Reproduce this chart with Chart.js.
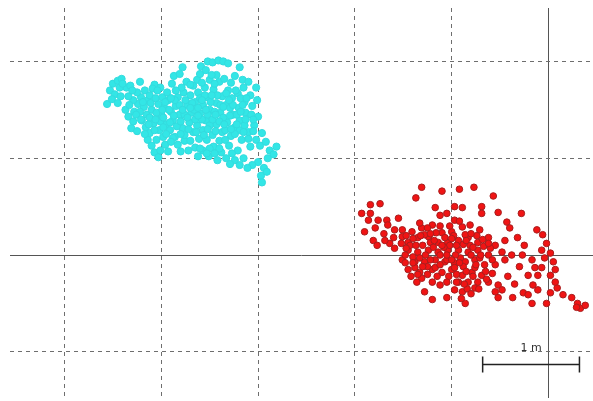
<!DOCTYPE html>
<html>
<head>
<meta charset="utf-8">
<script src="https://cdn.jsdelivr.net/npm/chart.js@4"></script>
<style>
  html, body { margin: 0; padding: 0; background: #fff; }
  canvas { display: block; }
</style>
</head>
<body>
<canvas id="chart" width="593" height="401"></canvas>
<script>
// positions in metres, origin at the solid axes
const cyanPoints = [
  [-4.56,1.56],[-4.53,1.70],[-4.50,1.77],[-4.45,1.80],[-4.41,1.82],[-4.48,1.66],[-4.51,1.61],[-4.45,1.57],
  [-4.42,1.64],[-4.36,1.73],[-4.32,1.75],[-4.37,1.50],[-4.34,1.43],[-4.29,1.38],[-4.31,1.31],[-4.25,1.28],
  [-4.28,1.48],[-4.24,1.56],[-4.21,1.63],[-4.22,1.79],[-4.17,1.70],[-4.14,1.60],[-4.18,1.53],[-4.15,1.45],
  [-4.20,1.39],[-4.16,1.32],[-4.12,1.26],[-4.14,1.19],[-4.10,1.13],[-4.07,1.06],[-4.03,1.01],[-4.01,1.08],
  [-4.05,1.19],[-4.08,1.36],[-4.10,1.50],[-4.12,1.65],[-4.07,1.76],[-4.01,1.73],[-3.99,1.63],[-4.03,1.56],
  [-4.00,1.45],[-4.02,1.29],[-3.98,1.22],[-3.96,1.14],[-3.93,1.07],[-3.95,1.35],[-3.97,1.52],[-3.93,1.60],
  [-3.94,1.68],[-3.89,1.77],[-3.87,1.85],[-3.81,1.87],[-3.78,1.94],[-3.74,1.79],[-3.77,1.68],[-3.83,1.63],
  [-3.85,1.54],[-3.90,1.48],[-3.88,1.39],[-3.91,1.29],[-3.86,1.22],[-3.83,1.14],[-3.80,1.07],[-3.76,1.18],
  [-3.78,1.31],[-3.81,1.45],[-3.73,1.55],[-3.70,1.65],[-3.67,1.75],[-3.63,1.81],[-3.60,1.87],[-3.59,1.95],
  [-3.54,1.91],[-3.52,2.00],[-3.47,1.99],[-3.41,2.01],[-3.36,2.00],[-3.31,1.98],[-3.43,1.86],[-3.50,1.81],
  [-3.55,1.73],[-3.62,1.68],[-3.65,1.58],[-3.69,1.47],[-3.71,1.37],[-3.67,1.27],[-3.70,1.18],[-3.72,1.08],
  [-3.65,1.11],[-3.61,1.20],[-3.63,1.34],[-3.60,1.46],[-3.57,1.55],[-3.52,1.63],[-3.46,1.71],[-3.40,1.79],
  [-3.35,1.82],[-3.28,1.78],[-3.24,1.85],[-3.19,1.94],[-3.16,1.81],[-3.31,1.70],[-3.37,1.64],[-3.43,1.57],
  [-3.50,1.50],[-3.54,1.39],[-3.57,1.29],[-3.53,1.19],[-3.57,1.08],[-3.51,1.02],[-3.46,1.12],[-3.47,1.24],
  [-3.43,1.35],[-3.39,1.47],[-3.33,1.55],[-3.27,1.62],[-3.21,1.67],[-3.15,1.73],[-3.10,1.79],[-3.08,1.65],
  [-3.14,1.58],[-3.20,1.52],[-3.26,1.45],[-3.32,1.37],[-3.37,1.27],[-3.40,1.18],[-3.38,1.06],[-3.42,0.98],
  [-3.33,1.00],[-3.30,1.13],[-3.28,1.23],[-3.24,1.32],[-3.19,1.39],[-3.13,1.47],[-3.06,1.54],[-3.01,1.60],
  [-3.02,1.73],[-3.00,1.43],[-3.04,1.34],[-3.10,1.27],[-3.17,1.19],[-3.21,1.08],[-3.24,0.98],[-3.15,1.00],
  [-3.08,1.12],[-3.02,1.19],[-2.96,1.26],[-2.98,1.13],[-2.92,1.17],[-2.88,1.08],[-2.84,1.04],[-2.81,1.12],
  [-2.90,1.00],[-3.00,0.96],[-2.94,0.90],[-2.97,0.82],[-2.91,0.86],[-2.96,0.75],[-3.06,0.93],[-3.11,0.90],
  [-3.19,0.93],[-3.29,0.94],[-4.25,1.68],[-4.29,1.60],[-4.34,1.64],[-4.43,1.73],[-3.88,1.21],[-3.79,1.73],
  [-3.34,1.19],[-4.07,1.29],[-3.91,1.37],[-3.76,1.45],[-3.65,1.40],[-3.50,1.34],[-3.34,1.29],[-3.19,1.29],
  [-3.60,1.62],[-3.45,1.48],[-3.29,1.52],[-3.14,1.34],[-3.81,1.55],[-4.01,1.38],[-4.12,1.42],[-4.22,1.48],
  [-3.76,1.24],[-3.62,1.02],
  [-4.26,1.45],[-4.19,1.58],[-4.11,1.57],[-4.05,1.47],[-4.06,1.62],[-3.98,1.42],[-3.96,1.58],[-3.92,1.50],
  [-3.86,1.60],[-3.87,1.44],[-3.84,1.33],[-3.95,1.25],[-3.90,1.17],[-3.80,1.25],[-3.73,1.42],[-3.72,1.30],
  [-3.68,1.57],[-3.66,1.50],[-3.58,1.40],[-3.56,1.24],[-3.52,1.45],[-3.49,1.58],[-3.47,1.40],[-3.44,1.28],
  [-3.42,1.65],[-3.39,1.55],[-3.36,1.42],[-3.33,1.67],[-3.29,1.44],[-3.26,1.55],[-3.23,1.70],[-3.22,1.45],
  [-3.24,1.25],[-3.18,1.62],[-3.16,1.55],[-3.13,1.40],[-3.10,1.20],[-3.07,1.45],[-3.55,1.65],[-3.62,1.52],
  [-3.78,1.50],[-4.09,1.72],[-4.17,1.25],[-3.98,1.32],[-3.60,1.10],[-3.50,1.10],[-3.40,1.10],[-3.27,1.05],
  [-3.70,1.76],[-3.45,1.77],
  [-4.40,1.77],[-4.33,1.55],[-4.30,1.70],[-4.21,1.40],[-4.13,1.35],[-4.06,1.40],[-4.04,1.70],[-3.99,1.50],
  [-3.90,1.62],[-3.85,1.70],[-3.80,1.38],[-3.75,1.60],[-3.70,1.52],[-3.64,1.27],[-3.62,1.44],[-3.58,1.60],
  [-3.54,1.50],[-3.52,1.30],[-3.48,1.65],[-3.44,1.45],[-3.40,1.38],[-3.36,1.53],[-3.35,1.35],[-3.30,1.60],
  [-3.28,1.30],[-3.22,1.35],[-3.18,1.48],[-3.15,1.27],[-3.12,1.62],[-3.05,1.40],[-3.05,1.28],[-3.58,1.78],
  [-3.48,1.86],[-3.53,1.05],[-3.45,1.05]
];

const redPoints = [
  [-1.31,0.70],[-1.10,0.66],[-0.92,0.68],[-0.77,0.70],[-1.37,0.59],[-0.57,0.61],[-1.84,0.52],[-1.74,0.53],
  [-1.84,0.43],[-1.86,0.36],[-1.76,0.36],[-1.67,0.36],[-1.55,0.38],[-1.90,0.24],[-1.79,0.28],[-1.66,0.31],
  [-1.59,0.26],[-1.81,0.15],[-1.77,0.10],[-1.64,0.12],[-1.51,0.26],[-1.17,0.49],[-1.12,0.41],[-1.05,0.43],
  [-0.97,0.50],[-0.89,0.49],[-0.69,0.50],[-0.69,0.43],[-0.52,0.44],[-0.28,0.43],[-0.43,0.34],[-0.40,0.28],
  [-0.32,0.18],[-0.12,0.26],[-0.06,0.21],[-0.02,0.12],[0.02,0.02],[0.05,-0.07],[-0.89,0.29],[-1.00,0.24],
  [-1.10,0.23],[-1.20,0.31],[-1.31,0.28],[-1.41,0.24],[-1.51,0.19],[-1.45,0.13],[-1.35,0.18],[-1.24,0.19],
  [-1.14,0.13],[-1.04,0.13],[-0.93,0.15],[-0.83,0.18],[-0.73,0.13],[-0.62,0.18],[-0.55,0.10],[-0.48,0.03],
  [-0.38,0.00],[-0.27,0.00],[-0.17,-0.05],[-1.45,0.05],[-1.35,0.03],[-1.24,0.05],[-1.14,0.03],[-1.04,0.05],
  [-0.93,0.05],[-0.83,0.03],[-0.73,0.05],[-0.62,0.00],[-1.51,-0.05],[-1.38,-0.07],[-1.28,-0.07],[-1.17,-0.05],
  [-1.07,-0.07],[-0.97,-0.08],[-0.86,-0.07],[-0.76,-0.05],[-0.66,-0.10],[-0.55,-0.10],[-1.45,-0.15],[-1.33,-0.18],
  [-1.20,-0.15],[-1.10,-0.18],[-1.00,-0.15],[-0.89,-0.21],[-0.79,-0.18],[-0.69,-0.21],[-0.58,-0.19],[-1.31,-0.24],
  [-1.20,-0.28],[-0.93,-0.28],[-0.83,-0.28],[-0.73,-0.28],[-0.62,-0.28],[-0.52,-0.31],[-1.28,-0.38],[-1.20,-0.46],
  [-1.05,-0.44],[-0.86,-0.50],[-0.76,-0.34],[-0.55,-0.38],[-0.52,-0.44],[-0.48,-0.36],[-0.37,-0.44],[-0.26,-0.39],
  [-0.21,-0.21],[-0.16,-0.31],[-0.11,-0.21],[-0.07,-0.13],[0.02,-0.21],[0.07,-0.15],[-0.17,-0.50],[-0.02,-0.50],
  [0.09,-0.34],[0.15,-0.41],[0.24,-0.44],[0.30,-0.50],[0.33,-0.55],[0.29,-0.54],[-0.11,-0.36],[-0.21,-0.41],
  [0.02,-0.39],[0.07,-0.28],[-0.07,0.05],[-0.04,-0.03],[-0.14,-0.13],[-1.43,0.10],[-1.33,-0.03],[-1.22,0.13],
  [-1.12,0.00],[-1.02,0.10],[-0.91,-0.03],[-0.81,0.10],[-0.71,-0.03],[-1.38,-0.13],[-1.17,-0.13],[-0.97,-0.13],
  [-0.76,-0.13],[-1.07,0.18],[-0.86,0.21],[-1.28,0.21],[-1.48,0.00],[-1.59,0.07],[-1.69,0.15],[-1.93,0.43],
  [0.38,-0.52],[-0.97,0.36],[-0.81,0.31],[-0.71,0.26],[-0.97,-0.36],[-1.12,-0.31],[-0.89,-0.38],
  [-1.40,0.17],[-1.40,-0.02],[-1.30,0.10],[-1.27,0.00],[-1.25,-0.12],[-1.19,0.08],[-1.16,0.23],[-1.15,-0.22],
  [-1.08,0.08],[-1.05,-0.05],[-1.03,-0.22],[-0.98,0.20],[-0.96,0.00],[-0.95,-0.20],[-0.88,0.11],[-0.88,-0.12],
  [-0.84,-0.35],[-0.80,0.00],[-0.78,-0.22],[-0.74,0.20],[-0.67,0.09],[-0.65,-0.17],[-0.60,0.07],[-0.58,-0.05],
  [-1.52,0.12],[-1.48,-0.08],[-1.42,-0.22],[-1.36,-0.28],[-1.25,0.28],[-0.90,-0.45],[-0.87,-0.30],[-0.80,-0.40],
  [-0.92,0.35],[-1.02,0.30],[-1.33,0.33],[-1.60,0.18],[-1.70,0.22],[-0.45,-0.05],[-0.42,-0.22],[-0.35,-0.30],
  [-0.30,-0.12],[-0.25,0.10],[-0.45,0.15],
  [-1.47,0.20],[-1.37,0.10],[-1.32,0.20],[-1.22,0.22],[-1.18,0.15],[-1.10,0.10],[-1.00,0.17],[-0.95,0.10],
  [-0.85,0.15],[-0.78,0.08],[-0.70,0.00],[-0.75,-0.10],[-0.85,-0.17],[-0.92,-0.08],[-1.00,-0.05],[-1.05,0.00],
  [-1.12,-0.10],[-1.22,-0.05],[-1.30,-0.12],[-1.40,-0.08],[-1.47,0.07],[-1.35,-0.20],[-1.25,-0.20],[-1.05,-0.28],
  [-0.95,-0.28],[-0.72,-0.35],[-0.64,-0.25],[-0.62,0.12],[-0.68,0.16],[-1.12,0.30],[-0.80,0.22]
];

const xRange = [-5.563, 0.460];
const yRange = [-1.477, 2.552];

// scale bar: 1 m long
const scaleBarX = [-0.68, 0.32];
const scaleBarY = -1.13;
const scaleBarLabel = '1 m';

const toXY = pts => pts.map(p => ({ x: p[0], y: p[1] }));

const gridColor = ctx => ctx.tick && ctx.tick.value === 0 ? '#555' : '#6e6e6e';
const gridDash = ctx => ctx.tick && ctx.tick.value === 0 ? [] : [4, 4];

const scaleBarPlugin = {
  id: 'scaleBar',
  afterDraw(chart) {
    const c = chart.ctx;
    const xs = chart.scales.x, ys = chart.scales.y;
    const x0 = xs.getPixelForValue(scaleBarX[0]);
    const x1 = xs.getPixelForValue(scaleBarX[1]);
    const y = ys.getPixelForValue(scaleBarY);
    c.save();
    c.strokeStyle = '#222';
    c.lineWidth = 1.5;
    c.beginPath();
    c.moveTo(x0, y); c.lineTo(x1, y);
    c.moveTo(x0, y - 8); c.lineTo(x0, y + 8);
    c.moveTo(x1, y - 8); c.lineTo(x1, y + 8);
    c.stroke();
    c.fillStyle = '#333';
    c.font = '11px "DejaVu Sans", sans-serif';
    c.textAlign = 'center';
    c.textBaseline = 'bottom';
    c.fillText(scaleBarLabel, (x0 + x1) / 2, y - 11);
    c.restore();
  }
};

const bgPlugin = {
  id: 'bg',
  beforeDraw(chart) {
    const c = chart.ctx;
    c.save();
    c.fillStyle = '#fff';
    c.fillRect(0, 0, chart.width, chart.height);
    c.restore();
  }
};

new Chart(document.getElementById('chart').getContext('2d'), {
  type: 'scatter',
  data: {
    datasets: [
      {
        label: 'cyan',
        data: toXY(cyanPoints),
        backgroundColor: '#33e6e6',
        borderColor: '#33dcdf',
        borderWidth: 1,
        pointRadius: 3.6
      },
      {
        label: 'red',
        data: toXY(redPoints),
        backgroundColor: '#f01414',
        borderColor: '#a81e1e',
        borderWidth: 1,
        pointRadius: 3.3
      }
    ]
  },
  options: {
    responsive: false,
    animation: false,
    layout: { autoPadding: false, padding: { left: 10, top: 8, right: 0, bottom: 3 } },
    plugins: { legend: { display: false }, tooltip: { enabled: false } },
    scales: {
      x: {
        min: xRange[0], max: xRange[1],
        ticks: { display: false, stepSize: 1, includeBounds: false },
        grid: { color: gridColor, lineWidth: 1, drawTicks: false },
        border: { display: false, dash: gridDash }
      },
      y: {
        min: yRange[0], max: yRange[1],
        ticks: { display: false, stepSize: 1, includeBounds: false },
        grid: { color: gridColor, lineWidth: 1, drawTicks: false },
        border: { display: false, dash: gridDash }
      }
    }
  },
  plugins: [bgPlugin, scaleBarPlugin]
});
</script>
</body>
</html>
